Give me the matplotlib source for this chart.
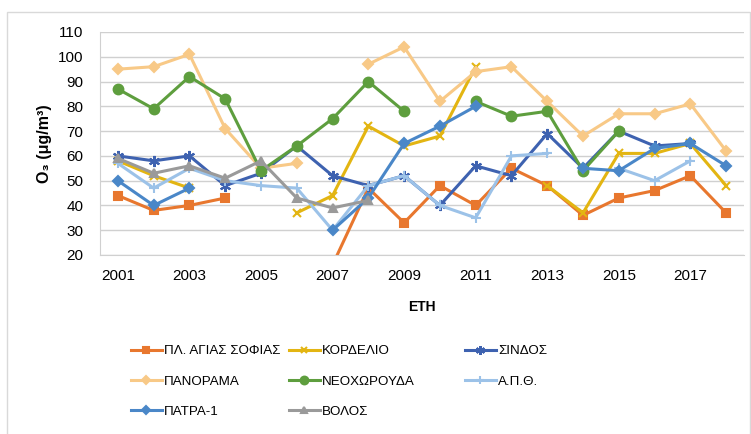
import numpy as np
import matplotlib
matplotlib.use('Agg')
import matplotlib.pyplot as plt
from matplotlib.patches import Rectangle

nan = np.nan
years = list(range(2001, 2019))
agias = [44, 38, 40, 43, nan, nan, 16, 47, 33, 48, 40, 55, 48, 36, 43, 46, 52, 37]
kordelio = [58, 52, 47, nan, nan, 37, 44, 72, 64, 68, 96, nan, 48, 37, 61, 61, 65, 48]
sindos = [60, 58, 60, 48, 53, 64, 52, 48, 52, 40, 56, 52, 69, 55, 70, 64, 65, nan]
panorama = [95, 96, 101, 71, 55, 57, nan, 97, 104, 82, 94, 96, 82, 68, 77, 77, 81, 62]
neochorouda = [87, 79, 92, 83, 54, 64, 75, 90, 78, nan, 82, 76, 78, 54, 70, nan, nan, nan]
apth = [57, 47, 55, 50, 48, 47, 30, 48, 52, 40, 35, 60, 61, nan, 55, 50, 58, nan]
patra = [50, 40, 47, nan, nan, nan, 30, 43, 65, 72, 80, nan, nan, 55, 54, 63, 65, 56]
volos = [59, 53, 56, 51, 58, 43, 39, 42, nan, nan, nan, nan, nan, nan, nan, nan, nan, nan]

plt.rcParams['font.family'] = ['Liberation Sans', 'DejaVu Sans']

fig = plt.figure(figsize=(7.51, 4.34), dpi=100)
ax = fig.add_axes([100/751, 1-255/434, 644/751, 223/434])

series = [
    ('ΠΛ. ΑΓΙΑΣ ΣΟΦΙΑΣ', agias, '#E8772E', 's', 6),
    ('ΚΟΡΔΕΛΙΟ', kordelio, '#E3B512', 'x', 6),
    ('ΣΙΝΔΟΣ', sindos, '#3E62B0', (6, 2, 0), 8),
    ('ΠΑΝΟΡΑΜΑ', panorama, '#F8C987', 'D', 5),
    ('ΝΕΟΧΩΡΟΥΔΑ', neochorouda, '#5E9E3E', 'o', 7),
    ('Α.Π.Θ.', apth, '#9CC2E8', '+', 7),
    ('ΠΑΤΡΑ-1', patra, '#4A87C8', 'D', 5),
    ('ΒΟΛΟΣ', volos, '#9A9A9A', '^', 6),
]
lines = {}
for name, vals, col, mk, ms in series:
    l, = ax.plot(years, vals, color=col, lw=2.2, marker=mk, ms=ms,
                 mec=col, mfc=col, mew=1.5, label=name)
    lines[name] = l

ax.set_xlim(2000.5, 2018.5)
ax.set_ylim(20, 110)
ax.set_yticks(range(20, 111, 10))
ax.set_xticks(range(2001, 2018, 2))
ax.tick_params(length=0, labelsize=11)
ax.tick_params(axis='y', pad=12)
ax.tick_params(axis='x', pad=10)
ax.grid(axis='y', color='#d0d0d0', lw=1)
ax.set_axisbelow(True)
for s in ['top', 'right']:
    ax.spines[s].set_visible(False)
ax.spines['left'].set_color('#d0d0d0')
ax.spines['bottom'].set_color('#d0d0d0')

ax.set_ylabel('O₃ (μg/m³)', fontsize=11.5, fontweight='bold')
ax.yaxis.set_label_coords(-0.075, 0.5)
ax.set_xlabel('ΕΤΗ', fontsize=10, fontweight='bold')
ax.xaxis.set_label_coords(0.5, -0.2)

cols = [
    (131, ['ΠΛ. ΑΓΙΑΣ ΣΟΦΙΑΣ', 'ΠΑΝΟΡΑΜΑ', 'ΠΑΤΡΑ-1']),
    (289, ['ΚΟΡΔΕΛΙΟ', 'ΝΕΟΧΩΡΟΥΔΑ', 'ΒΟΛΟΣ']),
    (465, ['ΣΙΝΔΟΣ', 'Α.Π.Θ.']),
]
for x0, names in cols:
    fig.legend([lines[n] for n in names], names, loc='upper left',
               bbox_to_anchor=(x0/751, 1-345/434), frameon=False,
               fontsize=9.6, handlelength=2.3, handletextpad=0.2,
               labelspacing=1.35, borderpad=0, borderaxespad=0,
               markerscale=0.8)

fig.patches.append(Rectangle((7/751, -0.1), 743/751, 1.1-12/434,
                             transform=fig.transFigure, fill=False,
                             edgecolor='#d9d9d9', lw=1))

fig.savefig('out.png', dpi=100)
